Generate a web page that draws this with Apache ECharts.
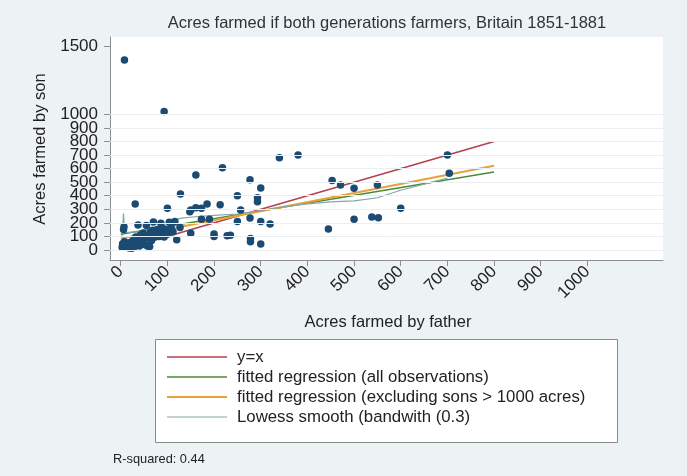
<!DOCTYPE html>
<html>
<head>
<meta charset="utf-8">
<script src="https://cdn.jsdelivr.net/npm/echarts/dist/echarts.min.js"></script>
<style>html,body{margin:0;padding:0;background:#edf3f5;}#c{width:687px;height:476px;}</style>
</head>
<body>
<div id="c"></div>
<script>
// ---- Data ----
var fatherAcres = [8,93,340,380,218,161,277,453,471,300,128,250,293,293,100,31,148,150,161,173,185,213,257,173,190,250,277,300,320,120,150,200,200,228,235,278,278,300,445,500,550,500,538,552,600,700,704,
  3,4,5,6,7,8,10,12,14,16,18,20,22,24,26,28,30,32,35,37,40,42,45,48,50,52,55,57,60,62,64,66,68,70,73,76,78,80,83,86,88,90,93,96,100,100,104,108,112,116,127];
var sonAcres = [1400,1020,680,700,607,553,518,513,479,457,413,400,385,356,307,339,282,295,312,307,339,334,295,226,226,209,236,209,192,75,123,118,100,105,108,85,60,44,155,455,479,226,243,238,307,700,565,
  20,45,35,150,172,60,25,50,30,40,15,55,30,12,70,40,25,95,55,184,30,110,65,125,40,85,180,30,105,25,130,70,145,206,95,115,150,135,100,197,125,160,95,140,115,147,204,165,135,210,165];
var yEqualsX = [[0,0],[800,800]];
var fitAll = [[0,115],[800,575]];
var fitExcl = [[0,85],[800,621]];
var lowessX = [3,6,8,20,40,60,80,100,115,130,160,200,250,300,350,400,450,500,550,600,700];
var lowessY = [100,270,130,130,135,140,160,190,220,235,245,255,265,290,320,340,355,362,385,440,530];
var xTicks = [0,100,200,300,400,500,600,700,800,900,1000];
var yTicks = [0,100,200,300,400,500,600,700,800,900,1000,1500];
var yLabelsEven = [0,200,400,600,800,1000,1500];
var yLabelsOdd = [100,300,500,700,900];
var gridYs = [0,100,200,300,400,500,600,700,800,900,1000];
var legendNames = ['y=x','fitted regression (all observations)','fitted regression (excluding sons > 1000 acres)','Lowess smooth (bandwith (0.3)'];
var titleText = 'Acres farmed if both generations farmers, Britain 1851-1881';
var xTitle = 'Acres farmed by father';
var yTitle = 'Acres farmed by son';
var noteText = 'R-squared: 0.44';

// ---- Build ----
var colors = ['#b2404f','#4a8a3a','#e9a23b','#86a6a4'];
var widths = [1.5,1.5,2,1.2];
var scatterData = fatherAcres.map(function(x,i){return [x, sonAcres[i]];});
var lowessData = lowessX.map(function(x,i){return [x, lowessY[i]];});
var FONT = '"Liberation Sans", Arial, Helvetica, sans-serif';

var graphics = [
  {type:'rect', z:1, shape:{x:155.5, y:339.5, width:462, height:103}, style:{fill:'#ffffff', stroke:'#8a8a8a', lineWidth:1}},
  {type:'text', x:387, y:23, style:{text:titleText, fontSize:16.5, fill:'#2e3338', textAlign:'center', textVerticalAlign:'middle', fontFamily:FONT}},
  {type:'text', x:388, y:322, style:{text:xTitle, fontSize:16.5, fill:'#222', textAlign:'center', textVerticalAlign:'middle', fontFamily:FONT}},
  {type:'text', x:40, y:149, rotation:Math.PI/2, style:{text:yTitle, fontSize:16.5, fill:'#222', textAlign:'center', textVerticalAlign:'middle', fontFamily:FONT}},
  {type:'text', x:113, y:459, style:{text:noteText, fontSize:12.8, fill:'#222', textAlign:'left', textVerticalAlign:'middle', fontFamily:FONT}}
];
legendNames.forEach(function(name,i){
  var yy = 357 + i*20;
  graphics.push({type:'line', z:2, shape:{x1:167, y1:yy, x2:227, y2:yy}, style:{stroke:colors[i], lineWidth:widths[i]}});
  graphics.push({type:'text', z:2, x:237, y:yy, style:{text:name, fontSize:16.8, fill:'#222', textAlign:'left', textVerticalAlign:'middle', fontFamily:FONT}});
});

function yAxisDef(labels, showLine) {
  return {
    type:'value', min:-74, max:1570, position:'left', offset:0,
    axisLine:{show:showLine, onZero:false, lineStyle:{color:'#8a8f92', width:1}},
    axisTick:{show:showLine, customValues:yTicks, length:6, lineStyle:{color:'#8a8f92'}},
    axisLabel:{customValues:labels, fontSize:17, color:'#222', margin:12, fontFamily:FONT, hideOverlap:false,
      showMinLabel:true, showMaxLabel:true, formatter:function(v){return String(v);}},
    splitLine:{show:false}
  };
}

var chart = echarts.init(document.getElementById('c'), null, {renderer:'canvas'});
chart.setOption({
  backgroundColor: '#edf3f5',
  animation: false,
  textStyle: {fontFamily: FONT},
  grid: {left:110, right:24, top:37, bottom:216, show:true, backgroundColor:'#ffffff', borderWidth:0},
  xAxis: {
    type:'value', min:-23, max:1162,
    axisLine:{show:true, onZero:false, lineStyle:{color:'#8a8f92', width:1}},
    axisTick:{show:true, customValues:xTicks, length:6, lineStyle:{color:'#8a8f92'}},
    axisLabel:{customValues:xTicks, rotate:45, fontSize:17, color:'#222', margin:9, fontFamily:FONT, hideOverlap:false,
      showMinLabel:true, showMaxLabel:true, formatter:function(v){return String(v);}},
    splitLine:{show:false}
  },
  yAxis: [yAxisDef(yLabelsEven, true), yAxisDef(yLabelsOdd, false)],
  graphic: graphics,
  series: [
    {type:'line', name:'grid', data:[], z:0, silent:true,
     markLine:{silent:true, symbol:'none', label:{show:false}, lineStyle:{color:'#e9eef0', width:1, type:'solid'},
       data: gridYs.map(function(v){return {yAxis:v};})}},
    {type:'line', name:legendNames[0], data:yEqualsX, symbol:'none', z:2, lineStyle:{color:colors[0], width:widths[0]}},
    {type:'line', name:legendNames[1], data:fitAll, symbol:'none', z:2, lineStyle:{color:colors[1], width:widths[1]}},
    {type:'line', name:legendNames[2], data:fitExcl, symbol:'none', z:2, lineStyle:{color:colors[2], width:widths[2]}},
    {type:'line', name:legendNames[3], data:lowessData, symbol:'none', z:2, lineStyle:{color:colors[3], width:widths[3]}},
    {type:'scatter', name:'obs', data:scatterData, symbol:'circle', symbolSize:7.5, z:3, itemStyle:{color:'#1b4a73', opacity:1}}
  ]
});
</script>
</body>
</html>
